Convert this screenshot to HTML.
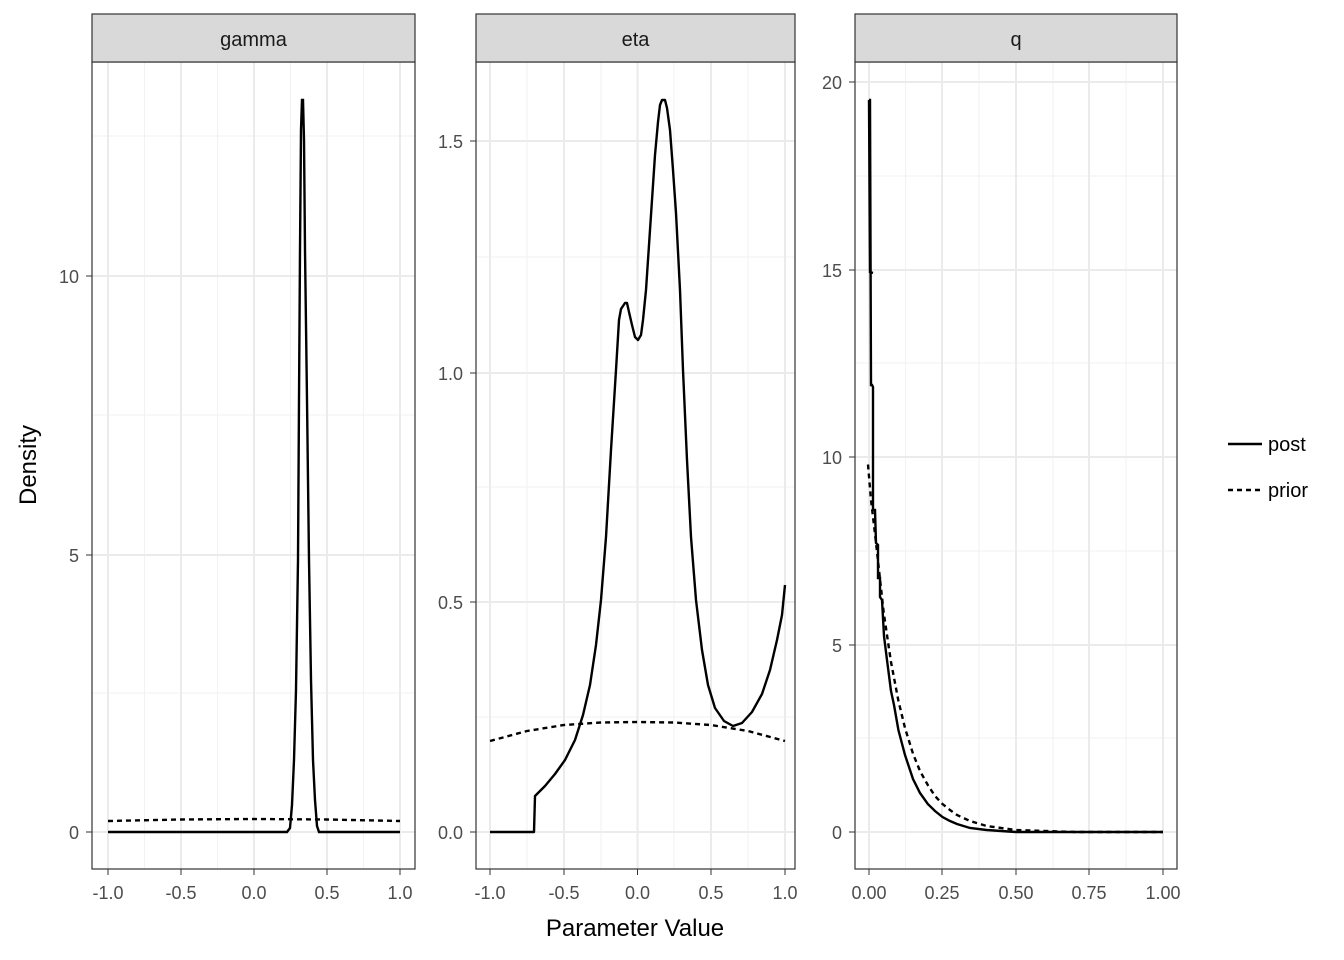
<!DOCTYPE html>
<html><head><meta charset="utf-8"><style>body{margin:0;background:#fff}svg{display:block}text{font-family:"Liberation Sans",Arial,sans-serif}</style></head>
<body>
<svg width="1344" height="960" viewBox="0 0 1344 960" xmlns="http://www.w3.org/2000/svg">
<!-- Panel 1 -->
<g>
<rect x="92" y="62" width="323" height="807" fill="#fff"/>
<g stroke="#f2f2f2" stroke-width="1">
<line x1="92" x2="415" y1="693" y2="693"/><line x1="92" x2="415" y1="415" y2="415"/><line x1="92" x2="415" y1="136" y2="136"/>
<line x1="144.5" x2="144.5" y1="62" y2="869"/><line x1="217.5" x2="217.5" y1="62" y2="869"/><line x1="290.5" x2="290.5" y1="62" y2="869"/><line x1="363.5" x2="363.5" y1="62" y2="869"/>
</g>
<g stroke="#ebebeb" stroke-width="2">
<line x1="92" x2="415" y1="832" y2="832"/><line x1="92" x2="415" y1="555" y2="555"/><line x1="92" x2="415" y1="276" y2="276"/>
<line x1="108" x2="108" y1="62" y2="869"/><line x1="181" x2="181" y1="62" y2="869"/><line x1="254" x2="254" y1="62" y2="869"/><line x1="327" x2="327" y1="62" y2="869"/><line x1="400" x2="400" y1="62" y2="869"/>
</g>
<polyline fill="none" stroke="#000" stroke-width="2.4" points="108,832 287,832 290,828 292,805 294,760 296,690 298,560 299,400 300,250 301,130 302,100 303,100 304,140 305,250 307,400 309,560 311,680 313,760 315,800 317,826 319,832 400,832"/>
<polyline fill="none" stroke="#000" stroke-width="2.4" stroke-dasharray="5,4" points="108,821 181,819.5 254,819 327,819.5 400,821"/>
<rect x="92" y="62" width="323" height="807" fill="none" stroke="#333" stroke-width="1.2"/>
<rect x="92" y="14" width="323" height="48" fill="#d9d9d9" stroke="#333" stroke-width="1.2"/>
<text x="253.5" y="46" font-size="20" text-anchor="middle" fill="#1a1a1a">gamma</text>
<g font-size="18" fill="#4d4d4d" text-anchor="end"><text x="79" y="839">0</text><text x="79" y="562">5</text><text x="79" y="283">10</text></g>
<g stroke="#333"><line x1="86" x2="92" y1="832" y2="832"/><line x1="86" x2="92" y1="555" y2="555"/><line x1="86" x2="92" y1="276" y2="276"/>
<line x1="108" x2="108" y1="869" y2="875"/><line x1="181" x2="181" y1="869" y2="875"/><line x1="254" x2="254" y1="869" y2="875"/><line x1="327" x2="327" y1="869" y2="875"/><line x1="400" x2="400" y1="869" y2="875"/></g>
<g font-size="18" fill="#4d4d4d" text-anchor="middle"><text x="108" y="899">-1.0</text><text x="181" y="899">-0.5</text><text x="254" y="899">0.0</text><text x="327" y="899">0.5</text><text x="400" y="899">1.0</text></g>
</g>
<!-- Panel 2 -->
<g>
<g stroke="#f2f2f2" stroke-width="1">
<line x1="476" x2="795" y1="717" y2="717"/><line x1="476" x2="795" y1="487" y2="487"/><line x1="476" x2="795" y1="257" y2="257"/>
<line x1="527" x2="527" y1="62" y2="869"/><line x1="601" x2="601" y1="62" y2="869"/><line x1="674" x2="674" y1="62" y2="869"/><line x1="748" x2="748" y1="62" y2="869"/>
</g>
<g stroke="#ebebeb" stroke-width="2">
<line x1="476" x2="795" y1="832" y2="832"/><line x1="476" x2="795" y1="602" y2="602"/><line x1="476" x2="795" y1="373" y2="373"/><line x1="476" x2="795" y1="141" y2="141"/>
<line x1="490" x2="490" y1="62" y2="869"/><line x1="564" x2="564" y1="62" y2="869"/><line x1="637.5" x2="637.5" y1="62" y2="869"/><line x1="711" x2="711" y1="62" y2="869"/><line x1="785" x2="785" y1="62" y2="869"/>
</g>
<polyline fill="none" stroke="#000" stroke-width="2.4" stroke-linejoin="round" points="490,832 534,832 535,796 545,786 555,774 565,760 575,740 583,715 590,685 596,645 601,600 606,537 611,450 616,370 619,320 621,309 625,303 627,303 629,312 632,325 635,337 638,340 641,335 643,320 646,290 649,245 652,200 655,155 658,122 660,105 662,100 665,100 667,108 670,130 673,170 676,213 680,290 683,370 687,460 691,537 696,600 702,650 708,685 715,708 724,721 733,726 742,723 752,712 762,694 770,670 777,640 782,615 785,585"/>
<polyline fill="none" stroke="#000" stroke-width="2.4" stroke-dasharray="5,4" points="490,741 527,731 564,725 601,722.5 637.5,722 674,722.5 711,725 748,731 785,741"/>
<rect x="476" y="62" width="319" height="807" fill="none" stroke="#333" stroke-width="1.2"/>
<rect x="476" y="14" width="319" height="48" fill="#d9d9d9" stroke="#333" stroke-width="1.2"/>
<text x="635.5" y="46" font-size="20" text-anchor="middle" fill="#1a1a1a">eta</text>
<g font-size="18" fill="#4d4d4d" text-anchor="end"><text x="463" y="839">0.0</text><text x="463" y="609">0.5</text><text x="463" y="380">1.0</text><text x="463" y="148">1.5</text></g>
<g stroke="#333"><line x1="470" x2="476" y1="832" y2="832"/><line x1="470" x2="476" y1="602" y2="602"/><line x1="470" x2="476" y1="373" y2="373"/><line x1="470" x2="476" y1="141" y2="141"/>
<line x1="490" x2="490" y1="869" y2="875"/><line x1="564" x2="564" y1="869" y2="875"/><line x1="637.5" x2="637.5" y1="869" y2="875"/><line x1="711" x2="711" y1="869" y2="875"/><line x1="785" x2="785" y1="869" y2="875"/></g>
<g font-size="18" fill="#4d4d4d" text-anchor="middle"><text x="490" y="899">-1.0</text><text x="564" y="899">-0.5</text><text x="637.5" y="899">0.0</text><text x="711" y="899">0.5</text><text x="785" y="899">1.0</text></g>
</g>
<!-- Panel 3 -->
<g>
<g stroke="#f2f2f2" stroke-width="1">
<line x1="855" x2="1177" y1="738" y2="738"/><line x1="855" x2="1177" y1="551" y2="551"/><line x1="855" x2="1177" y1="363" y2="363"/><line x1="855" x2="1177" y1="176" y2="176"/>
<line x1="905.5" x2="905.5" y1="62" y2="869"/><line x1="979" x2="979" y1="62" y2="869"/><line x1="1053" x2="1053" y1="62" y2="869"/><line x1="1126" x2="1126" y1="62" y2="869"/>
</g>
<g stroke="#ebebeb" stroke-width="2">
<line x1="855" x2="1177" y1="832" y2="832"/><line x1="855" x2="1177" y1="645" y2="645"/><line x1="855" x2="1177" y1="457" y2="457"/><line x1="855" x2="1177" y1="270" y2="270"/><line x1="855" x2="1177" y1="82" y2="82"/>
<line x1="869" x2="869" y1="62" y2="869"/><line x1="942" x2="942" y1="62" y2="869"/><line x1="1016" x2="1016" y1="62" y2="869"/><line x1="1089" x2="1089" y1="62" y2="869"/><line x1="1163" x2="1163" y1="62" y2="869"/>
</g>
<polyline fill="none" stroke="#000" stroke-width="2.4" points="869,100 870,100 871,385 872,385 873,387 873,510 875,510 876,543 878,545 878,578 880,578 880,597 882,600 884,636 887,660 891,691 894,705 898.4,730 905,755 913,779 920,793 927.8,804 935,811 942.5,817 950,821 957,824 970,828 986.6,830 1016,832 1163,832"/>
<polyline fill="none" stroke="#000" stroke-width="2.4" points="869,100 870,272 873,273"/>
<polyline fill="none" stroke="#000" stroke-width="2.4" stroke-dasharray="5,4" points="868,464.5 871,500 874.9,533 879,570 883.7,612.6 887,635 891,662 898.4,700.8 905,728 913,753.7 920,771 927.8,785 935,796 942.5,804 950,810 957,815 970,821 986.6,826 1016,830 1075,832 1163,832"/>
<rect x="855" y="62" width="322" height="807" fill="none" stroke="#333" stroke-width="1.2"/>
<rect x="855" y="14" width="322" height="48" fill="#d9d9d9" stroke="#333" stroke-width="1.2"/>
<text x="1016" y="46" font-size="20" text-anchor="middle" fill="#1a1a1a">q</text>
<g font-size="18" fill="#4d4d4d" text-anchor="end"><text x="842" y="839">0</text><text x="842" y="652">5</text><text x="842" y="464">10</text><text x="842" y="277">15</text><text x="842" y="89">20</text></g>
<g stroke="#333"><line x1="849" x2="855" y1="832" y2="832"/><line x1="849" x2="855" y1="645" y2="645"/><line x1="849" x2="855" y1="457" y2="457"/><line x1="849" x2="855" y1="270" y2="270"/><line x1="849" x2="855" y1="82" y2="82"/>
<line x1="869" x2="869" y1="869" y2="875"/><line x1="942" x2="942" y1="869" y2="875"/><line x1="1016" x2="1016" y1="869" y2="875"/><line x1="1089" x2="1089" y1="869" y2="875"/><line x1="1163" x2="1163" y1="869" y2="875"/></g>
<g font-size="18" fill="#4d4d4d" text-anchor="middle"><text x="869" y="899">0.00</text><text x="942" y="899">0.25</text><text x="1016" y="899">0.50</text><text x="1089" y="899">0.75</text><text x="1163" y="899">1.00</text></g>
</g>
<text x="635" y="936" font-size="24" text-anchor="middle" fill="#000">Parameter Value</text>
<text transform="translate(36,465) rotate(-90)" font-size="24" text-anchor="middle" fill="#000">Density</text>
<line x1="1228" x2="1262" y1="444" y2="444" stroke="#000" stroke-width="2.4"/>
<line x1="1228" x2="1262" y1="490" y2="490" stroke="#000" stroke-width="2.4" stroke-dasharray="5,4"/>
<text x="1268" y="451" font-size="20" fill="#000">post</text>
<text x="1268" y="497" font-size="20" fill="#000">prior</text>
</svg>
</body></html>
